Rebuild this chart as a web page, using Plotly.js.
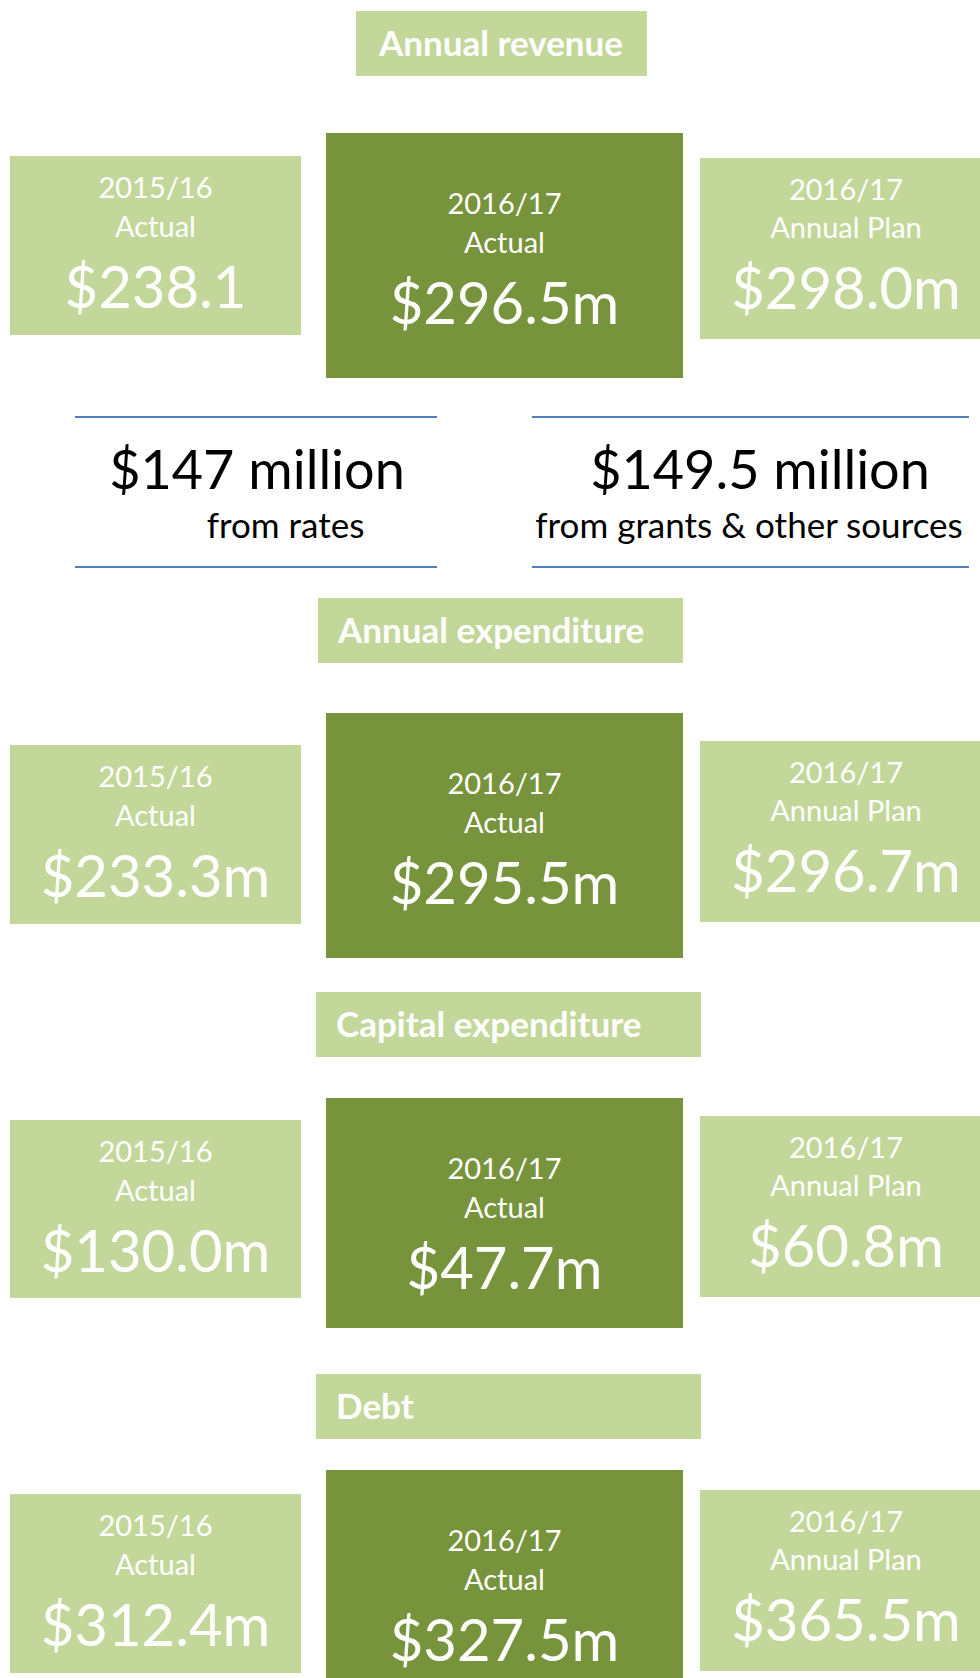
<!DOCTYPE html>
<html><head><meta charset="utf-8">
<script src="https://cdn.plot.ly/plotly-3.0.1.min.js"></script>
<style>html,body{margin:0;padding:0;background:#fff}#chart{width:980px;height:1678px}</style>
</head><body><div id="chart"></div>
<script>
// ---------- data ----------
const sectionTitles = ['Annual revenue', 'Annual expenditure', 'Capital expenditure', 'Debt'];
const periodYears = ['2015/16', '2016/17', '2016/17'];
const periodKinds = ['Actual', 'Actual', 'Annual Plan'];
const revenueValues = ['$238.1', '$296.5m', '$298.0m'];
const expenditureValues = ['$233.3m', '$295.5m', '$296.7m'];
const capitalValues = ['$130.0m', '$47.7m', '$60.8m'];
const debtValues = ['$312.4m', '$327.5m', '$365.5m'];
const revenueSplitAmounts = ['$147 million', '$149.5 million'];
const revenueSplitSources = ['from rates', 'from grants & other sources'];

// ---------- layout geometry (page pixels) ----------
const W = 980, H = 1678;
const LIGHT = '#C4D79B', DARK = '#77933C', BLUE = '#4F81BD';
const FONT = 'Lato, "Open Sans", sans-serif';
const sectionValues = [revenueValues, expenditureValues, capitalValues, debtValues];
const titleBoxes = [[356, 647, 11, 76], [318, 683, 598, 663], [316, 701, 992, 1057], [316, 701, 1374, 1439]];
const titleTextX = [501, 338, 336, 336];
const titlePos = ['middle center', 'middle right', 'middle right', 'middle right'];
const titleBaseOffset = 46;
const cols = [
  {x0: 10, x1: 301, cx: 155.5, fill: LIGHT, base: [41, 80, 150]},
  {x0: 326, x1: 683, cx: 504.5, fill: DARK, base: [80, 119, 189]},
  {x0: 700, x1: 1000, cx: 846, fill: LIGHT, base: [41, 79, 149]}
];
const cardTops = [[156, 133, 158], [745, 713, 741], [1120, 1098, 1116], [1494, 1470, 1490]];
const cardHeights = [[179, 245, 181], [179, 245, 181], [178, 230, 181], [179, 245, 181]];
const splitCols = [{x0: 75, x1: 437, amtX: 257, srcX: 285.5}, {x0: 532, x1: 969, amtX: 760, srcX: 749}];
const splitLineY = [417, 567];
const splitBase = [487, 537];

const FS_SMALL = 29, FS_BIG = 58, FS_TITLE = 35, FS_AMT = 54, FS_SRC = 35;
const mid = (base, fs, k) => base - (k === undefined ? 0.22 : k) * fs;

const shapes = [];
const small = {x: [], y: [], text: []};
const big = {x: [], y: [], text: []};
const titles = {x: [], y: [], text: [], pos: []};

sectionTitles.forEach((t, s) => {
  const b = titleBoxes[s];
  shapes.push({type: 'rect', xref: 'x', yref: 'y', x0: b[0], x1: b[1], y0: b[2], y1: b[3],
    fillcolor: LIGHT, line: {width: 0}, layer: 'below'});
  titles.x.push(titleTextX[s]); titles.y.push(mid(b[2] + titleBaseOffset, FS_TITLE, 0.27));
  titles.text.push(t); titles.pos.push(titlePos[s]);
  cols.forEach((c, i) => {
    const top = cardTops[s][i];
    shapes.push({type: 'rect', xref: 'x', yref: 'y', x0: c.x0, x1: c.x1, y0: top, y1: top + cardHeights[s][i],
      fillcolor: c.fill, line: {width: 0}, layer: 'below'});
    small.x.push(c.cx, c.cx); small.y.push(mid(top + c.base[0], FS_SMALL), mid(top + c.base[1], FS_SMALL));
    small.text.push(periodYears[i], periodKinds[i]);
    big.x.push(c.cx); big.y.push(mid(top + c.base[2], FS_BIG)); big.text.push(sectionValues[s][i]);
  });
});

splitCols.forEach(c => {
  splitLineY.forEach(y => shapes.push({type: 'line', xref: 'x', yref: 'y', x0: c.x0, x1: c.x1, y0: y, y1: y,
    line: {color: BLUE, width: 2}, layer: 'below'}));
});

const base = {type: 'scatter', mode: 'text', hoverinfo: 'skip', cliponaxis: false, showlegend: false};
const data = [
  Object.assign({}, base, {x: small.x, y: small.y, text: small.text, textposition: 'middle center',
    textfont: {family: FONT, size: FS_SMALL, color: '#FFFFFF'}}),
  Object.assign({}, base, {x: big.x, y: big.y, text: big.text, textposition: 'middle center',
    textfont: {family: FONT, size: FS_BIG, color: '#FFFFFF'}}),
  Object.assign({}, base, {x: titles.x, y: titles.y, text: titles.text, textposition: titles.pos,
    textfont: {family: FONT, size: FS_TITLE, color: '#FFFFFF', weight: 'bold'}}),
  Object.assign({}, base, {x: splitCols.map(c => c.amtX), y: [mid(splitBase[0], FS_AMT), mid(splitBase[0], FS_AMT)],
    text: revenueSplitAmounts, textposition: 'middle center', textfont: {family: FONT, size: FS_AMT, color: '#000000'}}),
  Object.assign({}, base, {x: splitCols.map(c => c.srcX), y: [mid(splitBase[1], FS_SRC), mid(splitBase[1], FS_SRC)],
    text: revenueSplitSources, textposition: 'middle center', textfont: {family: FONT, size: FS_SRC, color: '#000000'}})
];

const layout = {
  width: W, height: H, margin: {l: 0, r: 0, t: 0, b: 0, pad: 0},
  paper_bgcolor: '#FFFFFF', plot_bgcolor: '#FFFFFF',
  xaxis: {range: [0, W], visible: false, fixedrange: true},
  yaxis: {range: [H, 0], visible: false, fixedrange: true},
  shapes: shapes, showlegend: false, hovermode: false
};
Plotly.newPlot('chart', data, layout, {staticPlot: true, displayModeBar: false});
</script></body></html>
